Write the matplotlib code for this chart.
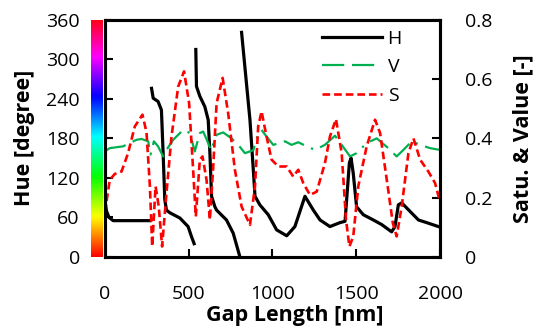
import numpy as np
import matplotlib
matplotlib.use('Agg')
import matplotlib.pyplot as plt

plt.rcParams['font.family'] = ['Open Sans', 'DejaVu Sans']

# hue (black), broken into branches where it wraps
h_x = [0, 10, 25, 50, 150, 270, np.nan,
       279, 289, 318, 338, 348, 358, 368, 388, 448, 497, 517, 533, np.nan,
       543, 547, 567, 597, 617, 627, 637, 657, 667, 726, 766, 806, np.nan,
       816, 866, 886, 896, 925, 975, 1025, 1085, 1134, 1194, 1244, 1284, 1343,
       1403, 1433, 1459, 1469, 1482, 1502, 1542, 1602, 1652, 1711, 1731, 1751,
       1771, 1821, 1871, 1920, 1990, 2000]
h_y = [88, 70, 60, 55, 55, 55, np.nan,
       256, 241, 236, 223, 158, 87, 71, 67, 59, 46, 31, 20, np.nan,
       315, 259, 244, 228, 208, 158, 92, 76, 71, 56, 36, 0, np.nan,
       341, 208, 132, 92, 79, 64, 41, 32, 46, 92, 71, 56, 46,
       52, 54, 143, 150, 127, 76, 64, 56, 49, 38, 46, 79,
       82, 69, 56, 52, 46, 45]

v_x = [0, 30, 109, 189, 219, 259, 273, 293, 318, 348, 368, 408, 468, 507, 537,
       567, 587, 617, 633, 667, 706, 756, 796, 836, 866, 886, 905, 935, 965,
       1005, 1075, 1114, 1154, 1204, 1254, 1313, 1373, 1413, 1463, 1502, 1562,
       1622, 1691, 1741, 1781, 1831, 1881, 1940, 2000]
v_y = [0.356, 0.367, 0.373, 0.395, 0.398, 0.39, 0.345, 0.39, 0.373, 0.339,
       0.361, 0.395, 0.429, 0.418, 0.356, 0.418, 0.423, 0.384, 0.359, 0.412,
       0.42, 0.4, 0.378, 0.35, 0.356, 0.36, 0.4, 0.429, 0.406, 0.378, 0.39,
       0.378, 0.387, 0.373, 0.361, 0.378, 0.409, 0.378, 0.339, 0.35, 0.384,
       0.4, 0.367, 0.339, 0.361, 0.39, 0.378, 0.367, 0.361]

s_x = [0, 6, 30, 60, 100, 139, 179, 225, 249, 269, 283, 303, 322, 342, 368,
       398, 438, 473, 503, 527, 543, 567, 583, 607, 627, 647, 667, 703, 736,
       776, 816, 866, 896, 915, 935, 965, 995, 1035, 1085, 1124, 1154, 1184,
       1224, 1264, 1313, 1343, 1379, 1413, 1439, 1459, 1482, 1512, 1562, 1612,
       1642, 1682, 1718, 1741, 1771, 1811, 1841, 1881, 1930, 1970, 1996, 2000]
s_y = [0.15, 0.17, 0.26, 0.28, 0.288, 0.35, 0.44, 0.48, 0.42, 0.24, 0.035,
       0.238, 0.17, 0.035, 0.215, 0.406, 0.575, 0.626, 0.519, 0.294, 0.136,
       0.328, 0.339, 0.26, 0.125, 0.305, 0.519, 0.604, 0.485, 0.294, 0.17,
       0.108, 0.238, 0.44, 0.491, 0.406, 0.328, 0.305, 0.305, 0.271, 0.294,
       0.249, 0.209, 0.22, 0.316, 0.406, 0.465, 0.35, 0.125, 0.035, 0.069,
       0.238, 0.373, 0.463, 0.418, 0.26, 0.114, 0.069, 0.17, 0.35, 0.4,
       0.328, 0.288, 0.249, 0.193, 0.185]

hue_ticks = [0, 60, 120, 180, 240, 300, 360]
sv_ticks = [0, 0.2, 0.4, 0.6, 0.8]
x_ticks = [0, 500, 1000, 1500, 2000]

fig = plt.figure(figsize=(5.4, 3.31), dpi=100)
ax = fig.add_axes([0.194, 0.224, 0.621, 0.716])
ax2 = ax.twinx()

ax.plot(h_x, h_y, color='black', lw=2.3, label='H')
lv, = ax2.plot(v_x, v_y, color='#00B050', lw=1.6, label='V')
lv.set_dashes([10, 3.5, 10, 3.5, 1, 3.5])
ls, = ax2.plot(s_x, s_y, color='red', lw=1.9, label='S')
ls.set_dashes([2.9, 1.5])

ax.set_xlim(0, 2000)
ax.set_ylim(0, 360)
ax2.set_ylim(0, 0.8)
ax.set_xticks(x_ticks)
ax.set_yticks(hue_ticks)
ax2.set_yticks(sv_ticks)
ax2.set_yticklabels(['0', '0.2', '0.4', '0.6', '0.8'])

for a in (ax, ax2):
    for sp in a.spines.values():
        sp.set_linewidth(2.2)
ax.tick_params(axis='x', direction='in', length=6, width=1.5, pad=20, labelsize=14)
ax.tick_params(axis='y', direction='in', length=6, width=1.5, pad=18, labelsize=14)
ax2.tick_params(axis='y', direction='in', length=6, width=1.5, pad=18, labelsize=14)

ax.set_xlabel('Gap Length [nm]', fontsize=15.5, fontweight='bold', labelpad=0)
ax.xaxis.set_label_coords(0.567, -0.205)
ax.set_ylabel('Hue [degree]', fontsize=15.5, fontweight='bold')
ax.yaxis.set_label_coords(-0.209, 0.5)
ax2.set_ylabel('Satu. & Value [-]', fontsize=15.5, fontweight='bold')
ax2.yaxis.set_label_coords(1.215, 0.5)

# hue color bar next to the left axis
cax = fig.add_axes([0.1685, 0.224, 0.0204, 0.716])
grad = np.linspace(0, 1, 256).reshape(-1, 1)
cax.imshow(grad, aspect='auto', cmap='hsv', origin='lower')
cax.axis('off')

handles = [ax.lines[0], lv, ls]
ax.legend(handles, ['H', 'V', 'S'], loc='upper right', bbox_to_anchor=(0.915, 1.0),
          frameon=False, fontsize=14, handlelength=3.1, handletextpad=0.3,
          labelspacing=0.55, borderaxespad=0.1)

fig.savefig('out.png', dpi=100)
